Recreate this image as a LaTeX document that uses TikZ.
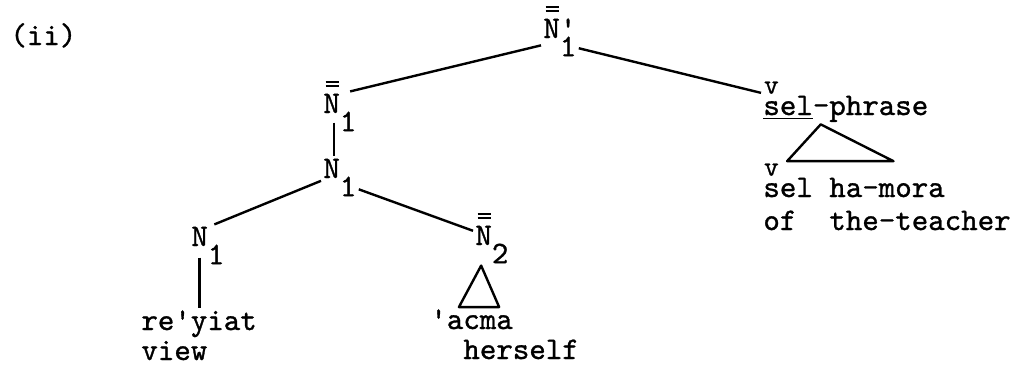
\documentclass[tikz,border=0pt]{standalone}
\usepackage{fontspec}
\setmonofont{lmmono10-regular.otf}[FakeBold=1]
\usepackage{tikz}

% double bar over a category letter
\newcommand{\dbar}[1]{%
  \rlap{\smash{\hspace{0.07em}\raisebox{0.84em}{\rule{0.42em}{0.8pt}}}}%
  \rlap{\smash{\hspace{0.07em}\raisebox{0.96em}{\rule{0.42em}{0.8pt}}}}#1}
% typed half a line down
\newcommand{\lowr}[1]{\raisebox{-0.58em}{#1}}
% v typed over a letter
\newcommand{\hacek}[1]{\rlap{\hspace{0.02em}\raisebox{0.68em}{\fontsize{14}{15}\selectfont v}}#1}

\begin{document}
\begin{tikzpicture}[
    x=0.5pt, y=-0.5pt,
    lab/.style={font=\ttfamily\fontsize{15.7}{18}\selectfont, inner sep=1pt, anchor=base west},
    branch/.style={line width=1.2pt, line join=round}
]
    \useasboundingbox (0,0) rectangle (1016,364);

    % Example number
    \node[lab] (ii) at (8,45) {(ii)};

    % Categories
    \node[lab] (root) at (541,38) {\dbar{N}\rlap{'}\lowr{1}};
    \node[lab] (nbb1) at (321,113) {\dbar{N}\lowr{1}};
    \node[lab] (n1m) at (321,178) {N\lowr{1}};
    \node[lab] (n1b) at (189,246) {N\lowr{1}};
    \node[lab] (nbb2) at (473,245) {\dbar{N}\lowr{2}};
    \node[lab] (selp) at (761,115) {\underline{\hacek{s}el}-phrase};

    % Words and glosses
    \node[lab] (reyiat) at (139,330) {re'yiat};
    \node[lab] (view) at (139,360) {view};
    \node[lab] (acma) at (428,329) {'acma};
    \node[lab] (herself) at (461,359) {herself};
    \node[lab] (shel) at (761,197) {\hacek{s}el ha-mora};
    \node[lab] (ofthe) at (761,230) {of\ \ the-teacher};

    % Branches
    \draw[branch] (root.203) -- (nbb1.64);
    \draw[branch] (root.-30) -- (selp.174);
    \draw[branch, shorten <=-5.5pt] (nbb1.254) -- (n1m.106);
    \draw[branch] (n1m.190) -- (n1b.73);
    \draw[branch] (n1m.-32) -- (nbb2.144);
    \draw[branch, shorten <=-4.5pt] (n1b.248) -- (n1b.248 |- reyiat.north);

    % Triangles
    \draw[branch] (nbb2.243) -- (acma.136) -- (acma.24) -- cycle;
    \draw[branch] (selp.222) -- (shel.164.5) -- (shel.26) -- cycle;
\end{tikzpicture}
\end{document}
